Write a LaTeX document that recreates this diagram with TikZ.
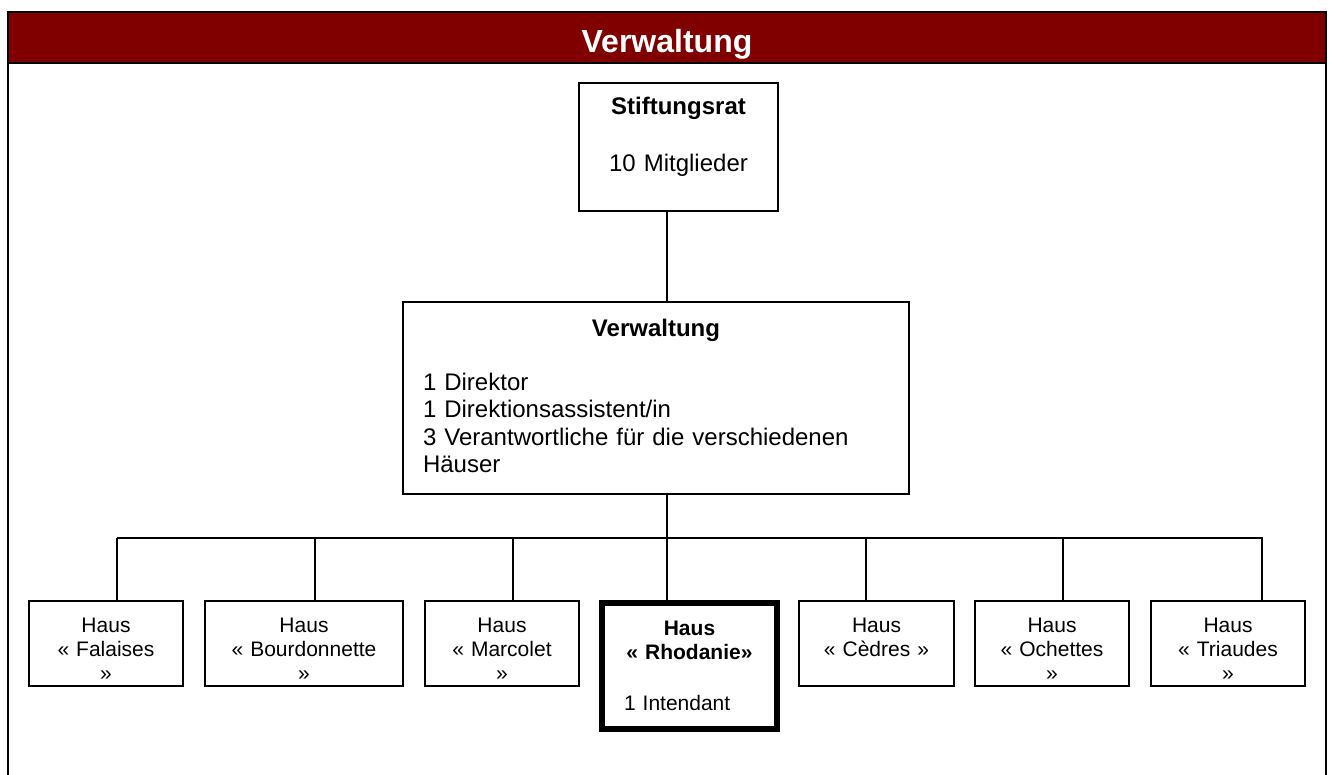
\documentclass[tikz,border=0pt]{standalone}
\usepackage{fontspec}
\setmainfont{Liberation Sans}
\definecolor{headred}{RGB}{128,0,0}
\tikzset{
  frame/.style={line width=2.5pt, draw=black},
  box/.style={
    draw=black,
    line width=1.6pt,
    inner sep=0pt,
    outer sep=0pt,
    anchor=north west,
    font=\fontsize{24}{27.6}\selectfont
  },
  box-haus/.style={
    box,
    align=center,
    text height=31pt,
    text depth=54pt,
    font=\fontsize{21}{24.2}\selectfont
  },
  box-bold/.style={box-haus, line width=5.5pt},
  link/.style={line width=1.6pt}
}

\begin{document}
\begin{tikzpicture}[x=1pt,y=-1pt]
  \useasboundingbox (0,0) rectangle (1329,774);
  \clip (0,0) rectangle (1329,774);
  % page frame and title bar
  \fill[headred] (8,12) rectangle (1326,63);
  \draw[frame] (8,12) rectangle (1326,800);
  \draw[frame] (8,63) -- (1326,63);
  \node[anchor=base, text=white, font=\fontsize{32}{36}\selectfont\bfseries] (title) at (667,52) {Verwaltung};

  % board and administration
  \node[box, align=center, text width=199pt, text height=31pt, text depth=97pt] (stift) at (579,83)
    {\textbf{Stiftungsrat}\\[29.4pt]10 Mitglieder};
  \node[box, align=left, text width=466pt, inner xsep=20pt, text height=34pt, text depth=158pt] (verw) at (403,302)
    {\makebox[\linewidth]{\bfseries Verwaltung}\\[26.4pt]
     1 Direktor\\
     1 Direktionsassistent/in\\
     3 Verantwortliche für die verschiedenen\\
     Häuser};

  % houses
  \node[box-haus, text width=154pt] (fal) at (29,601) {Haus\\« Falaises\\»};
  \node[box-haus, text width=198pt] (bou) at (205,601) {Haus\\« Bourdonnette\\»};
  \node[box-haus, text width=154pt] (mar) at (425,601) {Haus\\« Marcolet\\»};
  \node[box-bold, align=left, text width=131pt, inner xsep=22pt, text height=32pt, text depth=94pt] (rho) at (602,603)
    {\makebox[\linewidth]{\bfseries Haus}\\
     \makebox[\linewidth]{\bfseries « Rhodanie»}\\[26.8pt]
     1 Intendant};
  \node[box-haus, text width=155pt] (ced) at (799,601) {Haus\\« Cèdres »};
  \node[box-haus, text width=154pt] (och) at (975,601) {Haus\\« Ochettes\\»};
  \node[box-haus, text width=154pt] (tri) at (1151,601) {Haus\\« Triaudes\\»};

  % connectors
  \coordinate (trunk) at (667,538);
  \coordinate (bus) at (117,538);
  \draw[link] (stift.south -| trunk) -- (verw.north -| trunk);
  \draw[link] (verw.south -| trunk) -- (trunk);
  \foreach \n/\dx in {fal/11,bou/11,mar/11,rho/-22.5,ced/-10.5,och/11,tri/34}
    \draw[link] ([xshift=\dx pt]\n.north) |- (bus);
\end{tikzpicture}
\end{document}
